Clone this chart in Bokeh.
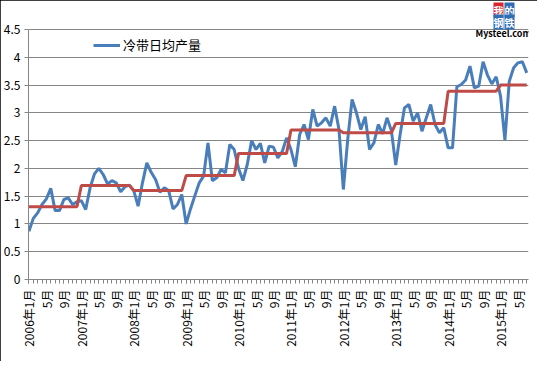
import math
from bokeh.plotting import figure
from bokeh.models import Range1d, FixedTicker, Legend, LegendItem, Label
from bokeh.embed import file_html
from bokeh.resources import INLINE

# ---- data ----
years = [2006, 2007, 2008, 2009, 2010, 2011, 2012, 2013, 2014, 2015]
months_per_year = [12, 12, 12, 12, 12, 12, 12, 12, 12, 7]

daily_output = [
    0.87, 1.10, 1.20, 1.35, 1.45, 1.64, 1.24, 1.24, 1.44, 1.47, 1.35, 1.40,  # 2006
    1.42, 1.26, 1.65, 1.90, 2.00, 1.89, 1.72, 1.78, 1.74, 1.58, 1.67, 1.70,  # 2007
    1.60, 1.32, 1.74, 2.10, 1.93, 1.80, 1.57, 1.65, 1.60, 1.27, 1.35, 1.53,  # 2008
    1.00, 1.27, 1.51, 1.74, 1.86, 2.46, 1.78, 1.83, 1.98, 1.92, 2.43, 2.34,  # 2009
    2.00, 1.78, 2.07, 2.50, 2.34, 2.45, 2.10, 2.40, 2.38, 2.19, 2.30, 2.55,  # 2010
    2.34, 2.03, 2.61, 2.79, 2.52, 3.06, 2.76, 2.82, 2.91, 2.76, 3.12, 2.70,  # 2011
    1.62, 2.52, 3.24, 3.00, 2.70, 2.93, 2.34, 2.46, 2.79, 2.62, 2.91, 2.68,  # 2012
    2.06, 2.61, 3.09, 3.15, 2.85, 3.00, 2.67, 2.91, 3.15, 2.79, 2.64, 2.73,  # 2013
    2.37, 2.37, 3.47, 3.51, 3.59, 3.84, 3.45, 3.48, 3.92, 3.68, 3.52, 3.65,  # 2014
    3.30, 2.51, 3.57, 3.81, 3.90, 3.92, 3.72,                                # 2015
]
annual_avg = [1.31, 1.69, 1.60, 1.87, 2.27, 2.69, 2.64, 2.81, 3.39, 3.50]

tick_labels = [
    "2006年1月", "5月", "9月", "2007年1月", "5月", "9月", "2008年1月", "5月", "9月",
    "2009年1月", "5月", "9月", "2010年1月", "5月", "9月", "2011年1月", "5月", "9月",
    "2012年1月", "5月", "9月", "2013年1月", "5月", "9月", "2014年1月", "5月", "9月",
    "2015年1月", "5月",
]
y_tick_values = [0, 0.5, 1, 1.5, 2, 2.5, 3, 3.5, 4, 4.5]
y_tick_labels = ["0", "0.5", "1", "1.5", "2", "2.5", "3", "3.5", "4", "4.5"]
legend_label = "冷带日均产量"

# ---- derived ----
n = len(daily_output)
idx = list(range(n))
avg_monthly = []
for a, m in zip(annual_avg, months_per_year):
    avg_monthly += [a] * m
tick_pos = [4 * i for i in range(len(tick_labels))]

FONT = "Noto Sans CJK SC"
GRID = "#868686"

# frame reaches the top of the figure so the logo is not clipped;
# the value 4.5 still sits 250 px above the axis
Y_MAX = 4.5
y_end = Y_MAX * 278 / 250

p = figure(width=537, height=361, output_backend="svg", toolbar_location=None,
           x_range=Range1d(-0.1, 114.4), y_range=Range1d(0, y_end),
           min_border_left=25, min_border_right=9, min_border_top=1,
           min_border_bottom=82)
p.outline_line_color = None
p.background_fill_color = "white"
p.border_fill_color = "white"

# x axis
p.xaxis.ticker = FixedTicker(ticks=tick_pos, minor_ticks=idx)
p.xaxis.major_label_overrides = {pos: lab for pos, lab in zip(tick_pos, tick_labels)}
p.xaxis.major_label_orientation = math.pi / 2
p.xaxis.major_label_text_font = FONT
p.xaxis.major_label_text_font_size = "12px"
p.xaxis.major_label_text_color = "black"
p.xaxis.major_label_standoff = 6
p.xaxis.axis_line_color = GRID
p.xaxis.major_tick_line_color = GRID
p.xaxis.minor_tick_line_color = GRID
p.xaxis.major_tick_out = 4
p.xaxis.major_tick_in = 0
p.xaxis.minor_tick_out = 4
p.xaxis.minor_tick_in = 0
p.xgrid.grid_line_color = None

# y axis
p.yaxis.ticker = FixedTicker(ticks=y_tick_values, minor_ticks=[])
p.yaxis.bounds = (0, Y_MAX)
p.yaxis.major_label_overrides = {v: l for v, l in zip(y_tick_values, y_tick_labels)}
p.yaxis.major_label_text_font = FONT
p.yaxis.major_label_text_font_size = "12px"
p.yaxis.major_label_text_color = "black"
p.yaxis.major_label_standoff = 4
p.yaxis.axis_line_color = GRID
p.yaxis.major_tick_line_color = GRID
p.yaxis.major_tick_out = 4
p.yaxis.major_tick_in = 0
p.ygrid.grid_line_color = GRID
p.ygrid.ticker = FixedTicker(ticks=y_tick_values)

blue = p.line(idx, daily_output, line_color="#4A7EBB", line_width=3)
red = p.line(idx, avg_monthly, line_color="#BE4B48", line_width=3)

legend = Legend(items=[LegendItem(label=legend_label, renderers=[blue])],
                location=(65, 225), orientation="vertical",
                border_line_color=None, background_fill_alpha=0,
                padding=0, margin=0, glyph_width=27, glyph_height=14,
                label_standoff=3, label_text_font=FONT,
                label_text_font_size="13px", label_text_color="black")
p.add_layout(legend)

# logo (decoration), screen units from the plot frame's bottom-left
def logo_label(x, y, text, color, bg, size, style="normal"):
    p.add_layout(Label(x=x, y=y, x_units="screen", y_units="screen", text=text,
                       text_color=color, text_font=FONT, text_font_size=size,
                       text_font_style=style, background_fill_color=bg,
                       text_align="left", text_baseline="top"))

logo_label(465, 277, "我", "white", "#D7262B", "10px", "bold")
logo_label(476, 277, "的", "white", "#2F6DB5", "10px", "bold")
logo_label(465, 265, "钢", "white", "#2F6DB5", "10px", "bold")
logo_label(476, 265, "铁", "white", "#2F6DB5", "10px", "bold")
logo_label(447, 253, "Mysteel.com", "black", None, "9px", "bold")

p.styles = {"outline": "1px solid #000", "outline-offset": "-1px"}

open("out.html", "w").write(file_html(p, INLINE))
